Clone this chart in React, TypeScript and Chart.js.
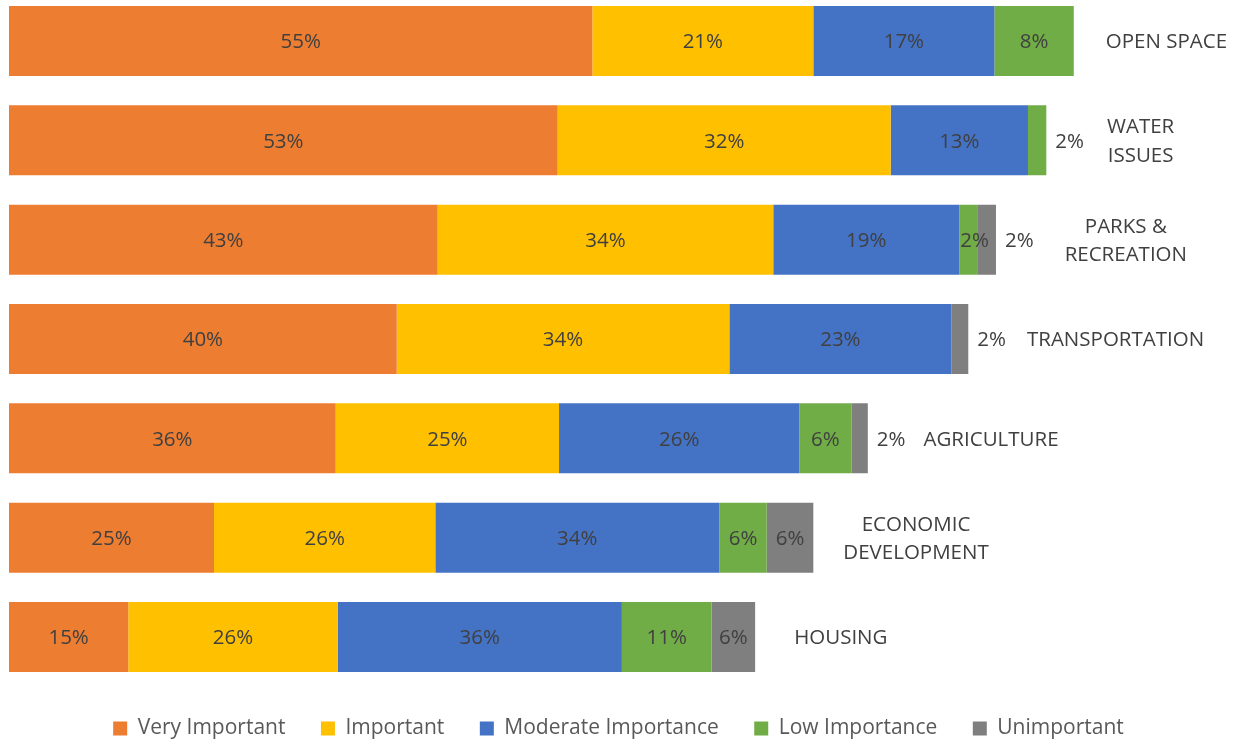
import { useEffect, useRef } from "react";
import { Chart, registerables } from "chart.js";

Chart.register(...registerables);

// ---- data ----
const categories: string[][] = [
  ["OPEN SPACE"],
  ["WATER", "ISSUES"],
  ["PARKS &", "RECREATION"],
  ["TRANSPORTATION"],
  ["AGRICULTURE"],
  ["ECONOMIC", "DEVELOPMENT"],
  ["HOUSING"],
];

const seriesNames = [
  "Very Important",
  "Important",
  "Moderate Importance",
  "Low Importance",
  "Unimportant",
];

// bar lengths (response share, common base)
const veryImportant = [55.03, 51.76, 40.44, 36.58, 30.82, 19.34, 11.25];
const important = [20.85, 31.42, 31.66, 31.38, 21.07, 20.88, 19.75];
const moderate = [17.08, 12.95, 17.55, 20.94, 22.67, 26.79, 26.82];
const low = [7.49, 1.73, 1.76, 0, 4.91, 4.47, 8.46];
const unimportant = [0, 0, 1.7, 1.6, 1.55, 4.4, 4.11];

// printed percentage labels
const veryImportantPct = [55, 53, 43, 40, 36, 25, 15];
const importantPct = [21, 32, 34, 34, 25, 26, 26];
const moderatePct = [17, 13, 19, 23, 26, 34, 36];
const lowPct = [8, 2, 2, 0, 6, 6, 11];
const unimportantPct = [0, 0, 2, 2, 2, 6, 6];

const seriesValues = [veryImportant, important, moderate, low, unimportant];
const seriesPct = [veryImportantPct, importantPct, moderatePct, lowPct, unimportantPct];

// ---- style ----
const COLORS = ["#ED7D31", "#FFC000", "#4472C4", "#70AD47", "#7F7F7F"];
const FONT = '"Open Sans", "Noto Sans", sans-serif';
const LABEL_GAPS = [32, 23, 31, 21, 18, 30, 39];
const LINE_H = 28.5;
const TEXT_DY = 1.5;

const labelPlugin = {
  id: "segLabels",
  afterDatasetsDraw(chart: any) {
    const ctx = chart.ctx as CanvasRenderingContext2D;
    ctx.save();
    ctx.font = `20.5px ${FONT}`;
    ctx.fillStyle = "#404040";
    ctx.textBaseline = "middle";
    const nDs = chart.data.datasets.length;
    for (let i = 0; i < categories.length; i++) {
      let lastIdx = -1;
      for (let d = 0; d < nDs; d++) if (seriesValues[d][i] > 0) lastIdx = d;
      let cursor = 0;
      let y = 0;
      for (let d = 0; d < nDs; d++) {
        const v = seriesValues[d][i];
        const el = chart.getDatasetMeta(d).data[i];
        if (!el) continue;
        y = el.y + TEXT_DY;
        if (!(v > 0)) continue;
        const start = Math.min(el.base, el.x);
        const end = Math.max(el.base, el.x);
        cursor = Math.max(cursor, end);
        const text = seriesPct[d][i] + "%";
        if (d === lastIdx && end - start < 30) {
          ctx.textAlign = "left";
          ctx.fillText(text, end + 9, y);
          cursor = end + 9 + ctx.measureText(text).width;
        } else {
          ctx.textAlign = "center";
          const w = ctx.measureText(text).width;
          // keep narrow-segment labels from spilling left into the previous segment
          const cx = w > end - start ? start + w / 2 + 1 : (start + end) / 2;
          ctx.fillText(text, cx, y);
        }
      }
      const lines = categories[i];
      const maxW = Math.max(...lines.map((l) => ctx.measureText(l).width));
      const cx = cursor + LABEL_GAPS[i] + maxW / 2;
      ctx.textAlign = "center";
      lines.forEach((l, k) => {
        ctx.fillText(l, cx, y + (k - (lines.length - 1) / 2) * LINE_H);
      });
    }
    ctx.restore();
  },
};

export default function App() {
  const ref = useRef<HTMLCanvasElement | null>(null);

  useEffect(() => {
    if (!ref.current) return;
    Chart.defaults.font.family = FONT;
    const chart = new Chart(ref.current, {
      type: "bar",
      data: {
        labels: categories,
        datasets: seriesNames.map((name, d) => ({
          label: name,
          data: seriesValues[d],
          backgroundColor: COLORS[d],
          borderWidth: 0,
          barPercentage: 0.705,
          categoryPercentage: 1,
          clip: false,
        })),
      },
      options: {
        animation: false,
        responsive: false,
        indexAxis: "y",
        layout: { padding: { top: 41, left: 9, right: 11, bottom: 0 } },
        scales: {
          x: {
            stacked: true,
            min: 0,
            max: 115,
            display: true,
            grid: { display: false },
            ticks: { display: false },
            border: { display: false },
            afterFit: (s: any) => {
              s.height = 45.5;
            },
          },
          y: {
            stacked: true,
            offset: false,
            display: false,
            grid: { display: false },
          },
        },
        plugins: {
          tooltip: { enabled: false },
          legend: {
            position: "bottom",
            labels: {
              boxWidth: 14,
              boxHeight: 14,
              padding: 35.5,
              color: "#595959",
              font: { family: FONT, size: 21 },
            },
          },
        },
      } as any,
      plugins: [labelPlugin],
    });
    return () => chart.destroy();
  }, []);

  return (
    <div style={{ position: "fixed", left: 0, top: 0, width: 1239, height: 749, background: "#fff" }}>
      <canvas ref={ref} width={1239} height={749} style={{ display: "block" }} />
    </div>
  );
}
